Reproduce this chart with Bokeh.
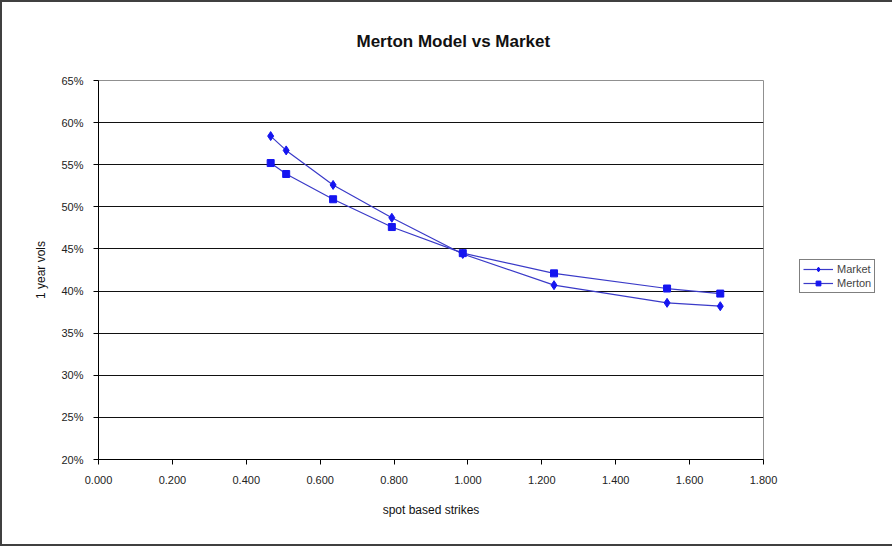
from bokeh.plotting import figure
from bokeh.models import (NumeralTickFormatter, FixedTicker, Range1d, Legend, LegendItem)
from bokeh.embed import file_html
from bokeh.resources import INLINE

# data
strikes = [0.466, 0.508, 0.635, 0.794, 0.986, 1.233, 1.539, 1.683]
market = [0.584, 0.567, 0.526, 0.487, 0.444, 0.407, 0.386, 0.382]
merton = [0.552, 0.539, 0.509, 0.476, 0.445, 0.421, 0.403, 0.397]
x_ticks = [0.0, 0.2, 0.4, 0.6, 0.8, 1.0, 1.2, 1.4, 1.6, 1.8]
y_ticks = [0.20, 0.25, 0.30, 0.35, 0.40, 0.45, 0.50, 0.55, 0.60, 0.65]

FONT = "Liberation Sans"
LINE = "#3a3ac8"
MARK = "#1515f0"

p = figure(frame_width=665, frame_height=379,
           min_border_left=98, min_border_top=80, min_border_right=129, min_border_bottom=87,
           output_backend="svg", toolbar_location=None,
           x_range=Range1d(0, 1.8), y_range=Range1d(0.2, 0.65))
p.border_fill_color = None
p.background_fill_color = "white"
p.styles = {"box-shadow": "inset 0 0 0 2px #404040", "background-color": "white"}

p.title.text = "Merton Model vs Market"
p.title.align = "left"
p.title.offset = 258
p.title.standoff = 56
p.title.vertical_align = "top"
p.title.text_font = FONT
p.title.text_font_size = "17px"
p.title.text_font_style = "bold"
p.title.text_color = "#111111"

p.xgrid.visible = False
p.ygrid.grid_line_color = "#111111"
p.ygrid.grid_line_width = 1
p.outline_line_color = "#909090"

for ax in (p.xaxis[0], p.yaxis[0]):
    ax.axis_line_color = "black"
    ax.major_tick_line_color = "black"
    ax.major_tick_out = 5
    ax.major_tick_in = 0
    ax.minor_tick_line_color = None
    ax.major_label_text_font = FONT
    ax.major_label_text_font_size = "11px"
    ax.major_label_text_color = "#222222"
    ax.axis_label_text_font = FONT
    ax.axis_label_text_font_size = "12px"
    ax.axis_label_text_font_style = "normal"
    ax.axis_label_text_color = "#111111"

p.xaxis.ticker = FixedTicker(ticks=x_ticks)
p.yaxis.ticker = FixedTicker(ticks=y_ticks)
p.xaxis.formatter = NumeralTickFormatter(format="0.000")
p.yaxis.formatter = NumeralTickFormatter(format="0%")
p.xaxis.axis_label = "spot based strikes"
p.yaxis.axis_label = "1 year vols"
p.xaxis.major_label_standoff = 11
p.xaxis.axis_label_standoff = 16
p.yaxis.major_label_standoff = 10
p.yaxis.axis_label_standoff = 10

l1 = p.line(strikes, market, line_color=LINE, line_width=1.2)
m1 = p.scatter(strikes, market, marker="diamond", size=9, fill_color=MARK, line_color=MARK)
l2 = p.line(strikes, merton, line_color=LINE, line_width=1.2)
m2 = p.scatter(strikes, merton, marker="square", size=7, fill_color=MARK, line_color=MARK)

legend = Legend(items=[LegendItem(label="Market", renderers=[l1, m1]),
                       LegendItem(label="Merton", renderers=[l2, m2])],
                location=(36, 166), orientation="vertical",
                label_text_font=FONT, label_text_font_size="11px",
                border_line_color="black", border_line_width=1,
                glyph_width=30, glyph_height=12, label_standoff=4,
                spacing=2, padding=3, margin=0, label_height=12)
p.add_layout(legend, "right")

open("out.html", "w").write(file_html(p, INLINE))
